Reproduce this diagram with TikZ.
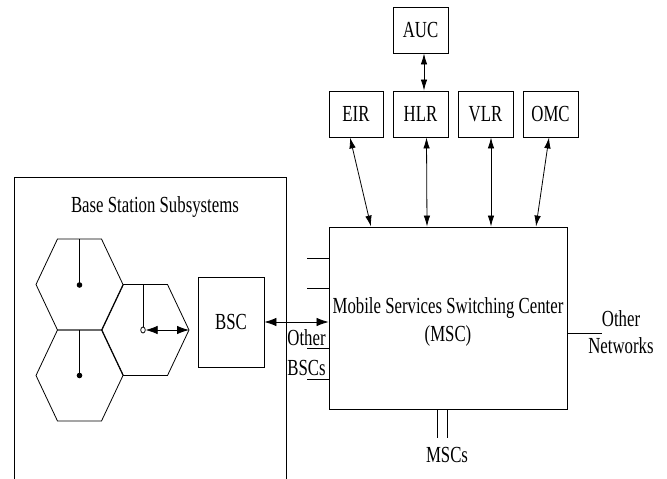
\documentclass[tikz,border=0pt]{standalone}
\usepackage{fontspec}
\setmainfont{Liberation Serif}[FakeStretch=0.73]
\usetikzlibrary{arrows.meta,calc,shapes.geometric}
\begin{document}
\begin{tikzpicture}[x=1pt,y=-1pt,
  line width=0.8pt,
  every node/.style={font=\fontsize{23}{25}\selectfont},
  box/.style={draw,line width=0.85pt,inner sep=0pt,minimum width=55pt,minimum height=46pt},
  lbl/.style={inner sep=0pt},
  tip/.tip={Latex[length=11pt,width=6.5pt]},
  widetip/.tip={Latex[length=12pt,width=8.5pt]},
  link/.style={tip-tip},
  widelink/.style={widetip-widetip},
]
\useasboundingbox (0,0) rectangle (667,479);

% Base station subsystem frame (open at the bottom)
\draw[line width=0.85pt] (14,479) -- (14,177) -- (286,177) -- (286,479);
\node[lbl,anchor=base] (bsstitle) at (155,212) {Base Station Subsystems};

% Hexagonal cells
\foreach \cx/\cy in {79.5/284.5, 79.5/375.5, 145.5/330}{
  \draw (\cx+43.5,\cy) -- (\cx+22,\cy-45.5) -- (\cx-22,\cy-45.5)
        -- (\cx-43.5,\cy) -- (\cx-22,\cy+45.5) -- (\cx+22,\cy+45.5) -- cycle;
}
% Antennas in the cells
\coordinate (a1top) at (79.5,239);
\coordinate (a1) at (79.5,285);
\coordinate (a2top) at (79.5,330);
\coordinate (a2) at (79.5,375.5);
\coordinate (a3top) at (143,284.5);
\coordinate (hexv) at (189,330);
\draw (a1top) -- (a1);
\fill (a1) circle (2.8);
\draw (a2top) -- (a2);
\fill (a2) circle (2.8);
\node[draw,ellipse,inner sep=0pt,minimum width=4.5pt,minimum height=6pt,line width=0.8pt] (ms) at (143,330) {};
\draw (a3top) -- (ms.north);
\draw[widelink] (ms.east) -- (hexv);

% Controllers and registers
\node[box,minimum width=66pt,minimum height=90pt] (bsc) at (231,322) {BSC};
\node[box,minimum width=238pt,minimum height=182pt] (msc) at (448,318) {};
\node[lbl,anchor=base] (msct1) at (448,313) {Mobile Services Switching Center};
\node[lbl,anchor=base] (msct2) at (448,341) {(MSC)};

\node[box] (auc) at (420.5,30) {AUC};
\node[box,minimum width=54pt] (eir) at (356,114) {EIR};
\node[box] (hlr) at (420.5,114) {HLR};
\node[box] (vlr) at (485.5,114) {VLR};
\node[box] (omc) at (550.5,114) {OMC};

% Links to the MSC
\draw[link] ([xshift=3.5pt]auc.south) -- ([xshift=3.5pt]hlr.north);
\draw[link] ([xshift=-6pt]eir.south) -- ([xshift=-77pt]msc.north);
\draw[link] ([xshift=6pt]hlr.south) -- ([xshift=-21pt]msc.north);
\draw[link] ([xshift=5.5pt]vlr.south) -- ([xshift=43pt]msc.north);
\draw[link] ([xshift=-1.5pt]omc.south) -- ([xshift=88pt]msc.north);
\draw[widelink] (bsc.east) -- (bsc.east -| msc.west);

% Stub lines on the left side of the MSC
\foreach \dy in {60,30,-30,-61}{
  \draw ([yshift=\dy pt]msc.west) -- ++(-22,0);
}
\node[lbl,anchor=base west] (obsc1) at (287,345) {Other};
\node[lbl,anchor=base west] (obsc2) at (287,375) {BSCs};

% Other networks
\draw ([yshift=-15pt]msc.east) -- ++(35,0) coordinate (netend);
\node[lbl,anchor=base] (onet1) at (621,326) {Other};
\node[lbl,anchor=base] (onet2) at (621,353) {Networks};

% Other MSCs
\draw ([xshift=-11pt]msc.south) -- ++(0,29);
\draw ([xshift=-1pt]msc.south) -- ++(0,29);
\node[lbl,anchor=base] (mscs) at (447,462) {MSCs};
\end{tikzpicture}
\end{document}
